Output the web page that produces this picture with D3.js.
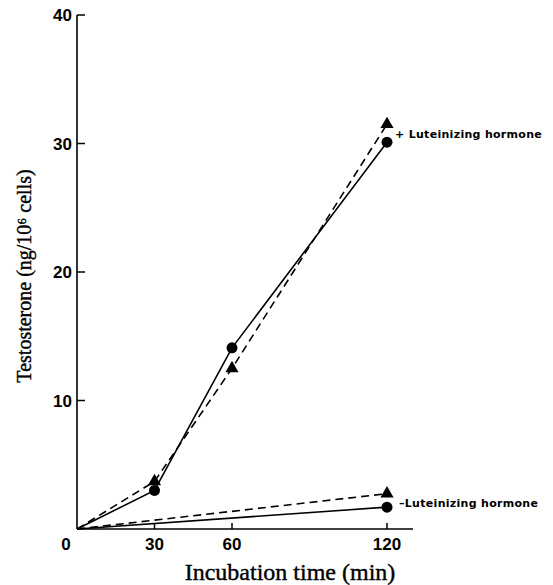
<!DOCTYPE html>
<html>
<head>
<meta charset="utf-8">
<script src="https://cdn.jsdelivr.net/npm/d3@7"></script>
<style>
  body { margin: 0; background: #fff; }
  svg { display: block; }
</style>
</head>
<body>
<div id="chart"></div>
<script>
// Data
var times = [0, 30, 60, 120];
var plusCircle = [0, 3.0, 14.1, 30.1];     // +LH, solid line, circles
var plusTriangle = [0, 3.7, 12.5, 31.5];   // +LH, dashed line, triangles
var minusTimes = [0, 120];
var minusCircle = [0, 1.7];                // -LH, solid line, circles
var minusTriangle = [0, 2.75];             // -LH, dashed line, triangles
var xTicks = [30, 60, 120];
var yTicks = [10, 20, 30, 40];

var svgWidth = 553;
var svgHeight = 585;

var svg = d3.select("#chart")
    .append("svg")
    .attr("width", svgWidth)
    .attr("height", svgHeight);

// Scales
var x = d3.scaleLinear().domain([0, 120]).range([77, 387]);
var y = d3.scaleLinear().domain([0, 40]).range([529, 15]);

// Axis lines
svg.append("line")
    .attr("x1", x(0)).attr("x2", x(0))
    .attr("y1", y(0)).attr("y2", y(40))
    .attr("stroke", "#000").attr("stroke-width", 1.6);

svg.append("line")
    .attr("x1", x(0)).attr("x2", 413)
    .attr("y1", y(0)).attr("y2", y(0))
    .attr("stroke", "#000").attr("stroke-width", 1.6);

// Y ticks (inward, right of axis)
svg.selectAll(".ytick")
    .data(yTicks)
    .enter().append("line")
    .attr("x1", x(0)).attr("x2", x(0) + 8)
    .attr("y1", d => y(d)).attr("y2", d => y(d))
    .attr("stroke", "#000").attr("stroke-width", 1.5);

svg.selectAll(".ylabel")
    .data(yTicks)
    .enter().append("text")
    .attr("x", x(0) - 5)
    .attr("y", d => y(d) + 6)
    .attr("text-anchor", "end")
    .attr("font-family", "Liberation Sans, Arial, sans-serif")
    .attr("font-weight", "bold")
    .attr("font-size", 17)
    .text(d => d);

// X ticks (inward, above axis)
svg.selectAll(".xtick")
    .data(xTicks)
    .enter().append("line")
    .attr("x1", d => x(d)).attr("x2", d => x(d))
    .attr("y1", y(0)).attr("y2", y(0) - 6)
    .attr("stroke", "#000").attr("stroke-width", 1.5);

svg.selectAll(".xlabel")
    .data([0].concat(xTicks))
    .enter().append("text")
    .attr("x", d => d === 0 ? x(0) - 11 : x(d))
    .attr("y", 550)
    .attr("text-anchor", "middle")
    .attr("font-family", "Liberation Sans, Arial, sans-serif")
    .attr("font-weight", "bold")
    .attr("font-size", 17)
    .text(d => d);

// Axis titles
svg.append("text")
    .attr("x", 290)
    .attr("y", 580)
    .attr("text-anchor", "middle")
    .attr("font-family", "Liberation Serif, Times New Roman, serif")
    .attr("font-size", 24)
    .attr("stroke", "#000")
    .attr("stroke-width", 0.4)
    .text("Incubation time (min)");

svg.append("text")
    .attr("transform", "translate(31,276) rotate(-90)")
    .attr("text-anchor", "middle")
    .attr("font-family", "Liberation Serif, Times New Roman, serif")
    .attr("font-size", 20)
    .attr("stroke", "#000")
    .attr("stroke-width", 0.4)
    .text("Testosterone (ng/10\u2076 cells)");

// Lines
var line = d3.line()
    .x(d => x(d[0]))
    .y(d => y(d[1]));

function drawSeries(xs, vals, dashed, marker) {
    var pts = xs.map((t, i) => [t, vals[i]]);
    svg.append("path")
        .datum(pts)
        .attr("d", line)
        .attr("fill", "none")
        .attr("stroke", "#000")
        .attr("stroke-width", 1.6)
        .attr("stroke-dasharray", dashed ? "8,5" : null);

    var sym = marker === "circle"
        ? d3.symbol().type(d3.symbolCircle).size(95)
        : d3.symbol().type(d3.symbolTriangle).size(75);

    svg.selectAll(null)
        .data(pts.filter(d => d[0] > 0))
        .enter().append("path")
        .attr("d", sym)
        .attr("transform", d => `translate(${x(d[0])},${y(d[1])})`)
        .attr("fill", "#000");
}

drawSeries(times, plusTriangle, true, "triangle");
drawSeries(times, plusCircle, false, "circle");
drawSeries(minusTimes, minusTriangle, true, "triangle");
drawSeries(minusTimes, minusCircle, false, "circle");

// Annotations
svg.append("text")
    .attr("x", 395)
    .attr("y", 138)
    .attr("font-family", "DejaVu Sans, sans-serif")
    .attr("font-weight", "bold")
    .attr("font-size", 11)
    .attr("letter-spacing", 0.3)
    .text("+ Luteinizing hormone");

svg.append("text")
    .attr("x", 399)
    .attr("y", 507)
    .attr("font-family", "DejaVu Sans, sans-serif")
    .attr("font-weight", "bold")
    .attr("font-size", 11)
    .attr("letter-spacing", 0.3)
    .text("\u2013Luteinizing hormone");
</script>
</body>
</html>
